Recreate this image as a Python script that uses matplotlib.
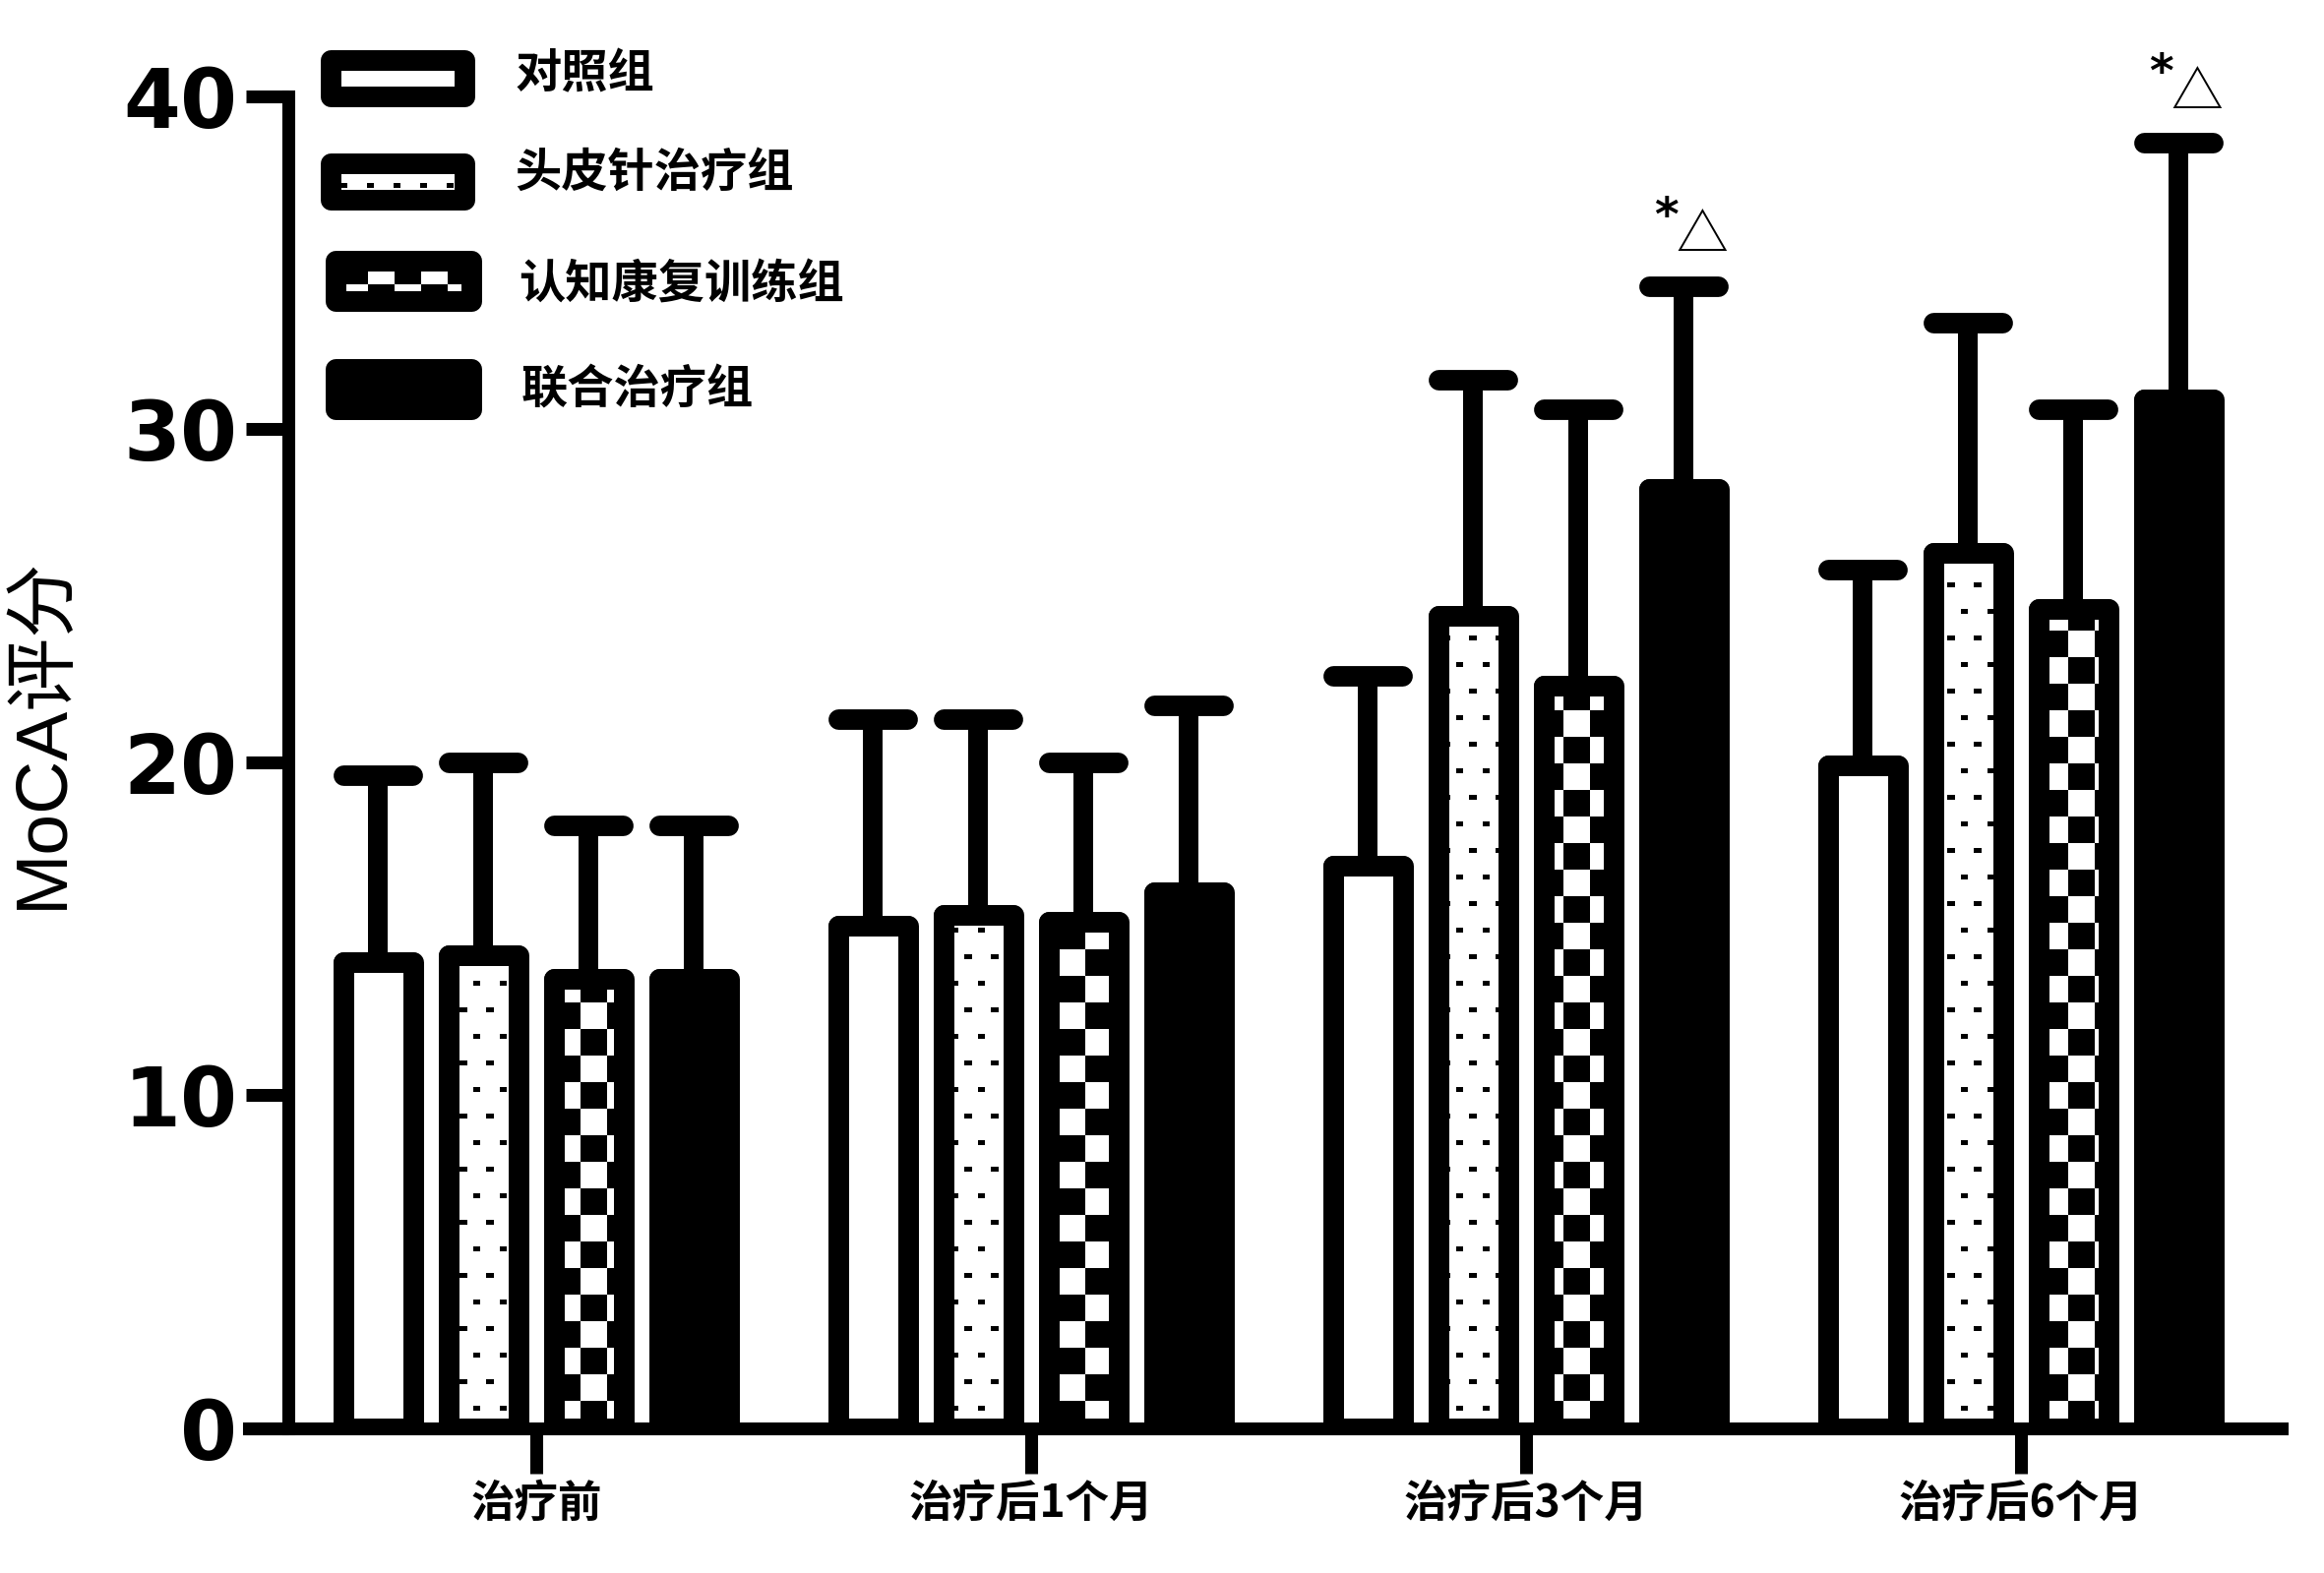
import numpy as np
import matplotlib
matplotlib.use('Agg')
import matplotlib.pyplot as plt
import matplotlib.transforms as mtransforms
from matplotlib.markers import MarkerStyle
from matplotlib.patches import Rectangle

### data ###
groups = ['治疗前', '治疗后1个月', '治疗后3个月', '治疗后6个月']
series = ['对照组', '头皮针治疗组', '认知康复训练组', '联合治疗组']
control = [14.0, 15.1, 16.9, 19.9]
scalp = [14.2, 15.4, 24.4, 26.3]
cognitive = [13.5, 15.2, 22.3, 24.6]
combined = [13.5, 16.1, 28.2, 30.9]
control_sd = [5.6, 6.2, 5.7, 5.9]
scalp_sd = [5.8, 5.9, 7.1, 6.9]
cognitive_sd = [4.6, 4.8, 8.3, 6.0]
combined_sd = [4.6, 5.6, 6.1, 7.7]
combined_marks = ['', '', '*△', '*△']
y_ticks = [0, 10, 20, 30, 40]

means = [control, scalp, cognitive, combined]
sds = [control_sd, scalp_sd, cognitive_sd, combined_sd]

### figure ###
W, H = 2362, 1599
fig = plt.figure(figsize=(W / 100, H / 100), dpi=100)
ax = fig.add_axes([0.1071, 0.0922, 0.8747, 0.8465])
ax.set_xlim(-0.5805, 3.527)
ax.set_ylim(0, 40)

# page-aligned fill patterns (pixel grid of the figure, top-left origin)
yy, xx = np.mgrid[0:H, 0:W]
checker = ((np.floor((xx - 590) / 27) + np.floor((yy - 1126.7) / 27)) % 2 == 0).astype(float)
row = np.round(yy / 27)
dy = yy - row * 27
xo = np.where(row % 2 == 0, 11.5, 25.0)
dx = (xx - xo + 13.5) % 27 - 13.5
dots = np.ones((H, W))
dots[(np.abs(dx) < 3.6) & (np.abs(dy) < 2.6)] = 0
textures = [None, dots, checker, None]
faces = ['white', 'none', 'none', 'black']


def fill_pattern(tex, patch):
    im = ax.imshow(tex, cmap='gray', vmin=0, vmax=1, extent=(0, 1, 0, 1),
                   transform=fig.transFigure, interpolation='nearest',
                   aspect='auto', zorder=2)
    im.set_clip_path(patch)   # imshow resets it to the axes patch otherwise
    return im


bw = 0.141
step = 0.2127
x = np.arange(len(groups))
for j in range(4):
    xs = x + (j - 1.5) * step
    eb = ax.errorbar(xs, means[j], yerr=[np.zeros(len(groups)), sds[j]], fmt='none',
                     ecolor='black', elinewidth=14.4, capsize=25, capthick=15, zorder=1.8)
    for cl in eb.lines[1]:
        cl.set_marker(MarkerStyle('_', capstyle='round'))
    bars = ax.bar(xs, means[j], width=bw, color=faces[j], edgecolor='black',
                  linewidth=15.1, joinstyle='round', zorder=3)
    if textures[j] is not None:
        for b in bars:
            fill_pattern(textures[j], b)

# significance marks over combined group: '*' small and raised, '△' beside it
mark_styles = [(-13, 50, 34, 'bold', ['DejaVu Sans']),
               (13, 36, 38, 'normal', ['Noto Sans CJK SC'])]
for i, m in enumerate(combined_marks):
    for ch, (ox, oy, fs, fw, fam) in zip(m, mark_styles):
        ax.annotate(ch, xy=(x[i] + 1.5 * step, combined[i] + combined_sd[i]),
                    xytext=(ox, oy), textcoords='offset points', ha='center',
                    va='center', fontsize=fs, fontweight=fw, family=fam,
                    annotation_clip=False)

ax.set_xlim(-0.5805, 3.527)
ax.set_ylim(0, 40)

### axes styling ###
for s in ['top', 'right']:
    ax.spines[s].set_visible(False)
ax.spines['left'].set_position(('data', -0.5))
ax.spines['left'].set_linewidth(9.4)
ax.spines['bottom'].set_linewidth(9.4)

ax.set_yticks(y_ticks, labels=[str(v) for v in y_ticks], fontsize=60,
              fontweight='bold', family='DejaVu Sans')
ax.set_xticks(x, labels=groups, fontsize=32, family=['Noto Sans CJK SC'],
              fontweight='bold')
ax.tick_params(axis='y', length=31, width=9.4, pad=6.5)
ax.tick_params(axis='x', length=33, width=9.4, pad=6)

ax.set_ylabel('MoCA评分', fontsize=54, family=['Liberation Sans', 'Noto Sans CJK SC'],
              va='center')
ax.yaxis.set_label_coords(-0.1016, 0.522)

### legend (drawn in figure pixel coords) ###
pix = mtransforms.Affine2D().scale(1 / W, -1 / H).translate(0, 1) + fig.transFigure
leg_boxes = [(325, 50, 157, 58), (325, 155, 157, 58), (330, 254, 159, 62), (330, 364, 159, 62)]
leg_text = [(523, 75), (523, 176), (527, 289), (530, 396)]
for j, name in enumerate(series):
    bx, by, w, h = leg_boxes[j]
    r = Rectangle((bx + 10.5, by + 10.5), w - 21, h - 21, transform=pix,
                  facecolor=faces[j], edgecolor='black', linewidth=15.1,
                  joinstyle='round', zorder=3)
    fig.add_artist(r)
    if textures[j] is not None:
        fill_pattern(textures[j], r)
    fig.text(leg_text[j][0] / W, 1 - leg_text[j][1] / H, name, fontsize=34,
             ha='left', va='center', family=['Noto Sans CJK SC'], fontweight='bold')

fig.savefig('out.png', dpi=100)
